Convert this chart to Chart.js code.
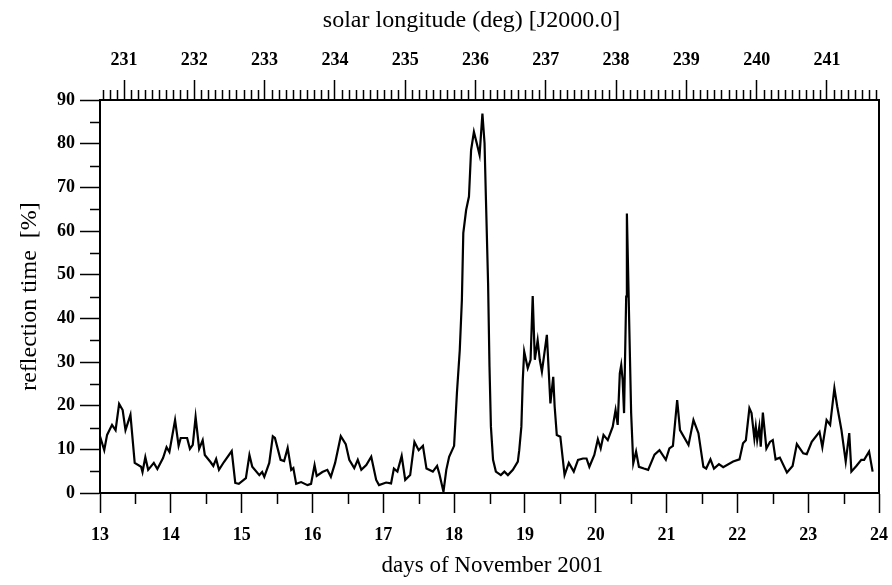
<!DOCTYPE html>
<html>
<head>
<meta charset="utf-8">
<script src="https://cdn.jsdelivr.net/npm/chart.js@4.4.1/dist/chart.umd.min.js"></script>
<style>
  body { margin: 0; background: #fff; }
  #wrap { width: 892px; height: 585px; }
</style>
</head>
<body>
<div id="wrap"><canvas id="chart"></canvas></div>
<script>
// days of November 2001 (UT) and reflection time [%]
const days = [
  13.00, 13.06, 13.10, 13.17, 13.22, 13.27, 13.32, 13.36, 13.43, 13.49,
  13.58, 13.60, 13.64, 13.68, 13.76, 13.81, 13.89, 13.94, 13.98, 14.06,
  14.11, 14.14, 14.23, 14.27, 14.31, 14.35, 14.40, 14.45, 14.48, 14.56,
  14.60, 14.64, 14.68, 14.75, 14.86, 14.91, 14.96, 15.06, 15.11, 15.15,
  15.25, 15.29, 15.32, 15.39, 15.44, 15.47, 15.55, 15.60, 15.65, 15.70,
  15.73, 15.77, 15.84, 15.93, 15.98, 16.03, 16.06, 16.14, 16.21, 16.26,
  16.32, 16.40, 16.47, 16.52, 16.59, 16.64, 16.69, 16.76, 16.83, 16.90,
  16.94, 17.04, 17.11, 17.15, 17.20, 17.26, 17.31, 17.38, 17.44, 17.50,
  17.56, 17.61, 17.70, 17.76, 17.79, 17.85, 17.89, 17.93, 18.00, 18.04,
  18.08, 18.11, 18.13, 18.17, 18.21, 18.24, 18.28, 18.32, 18.36, 18.40,
  18.43, 18.45, 18.48, 18.50, 18.52, 18.55, 18.59, 18.66, 18.71, 18.76,
  18.83, 18.90, 18.92, 18.95, 18.97, 18.99, 19.04, 19.08, 19.11, 19.14,
  19.18, 19.21, 19.24, 19.31, 19.36, 19.40, 19.42, 19.45, 19.50, 19.56,
  19.62, 19.69, 19.75, 19.82, 19.87, 19.91, 19.98, 20.03, 20.07, 20.11,
  20.17, 20.24, 20.28, 20.31, 20.34, 20.36, 20.38, 20.40, 20.43, 20.44,
  20.47, 20.50, 20.53, 20.57, 20.61, 20.68, 20.74, 20.83, 20.90, 20.99,
  21.04, 21.09, 21.15, 21.19, 21.31, 21.38, 21.45, 21.52, 21.56, 21.62,
  21.67, 21.74, 21.80, 21.94, 22.03, 22.08, 22.12, 22.17, 22.20, 22.24,
  22.26, 22.28, 22.31, 22.33, 22.36, 22.41, 22.46, 22.50, 22.54, 22.60,
  22.70, 22.78, 22.84, 22.93, 22.98, 23.05, 23.16, 23.20, 23.26, 23.31,
  23.37, 23.41, 23.47, 23.53, 23.58, 23.61, 23.68, 23.75, 23.79, 23.86,
  23.91
];
const reflection = [
  13.0, 9.8, 13.3, 15.6, 14.4, 20.4, 19.0, 14.4, 17.9, 6.9,
  6.0, 4.8, 8.2, 5.3, 6.9, 5.5, 8.0, 10.5, 9.4, 16.7,
  10.8, 12.6, 12.6, 10.1, 11.0, 17.4, 10.1, 12.1, 8.7, 7.1,
  6.2, 7.8, 5.3, 7.1, 9.6, 2.3, 2.1, 3.4, 8.7, 6.0,
  4.1, 4.8, 3.7, 6.9, 13.0, 12.6, 7.6, 7.3, 10.3, 5.3,
  5.7, 2.1, 2.5, 1.8, 2.1, 6.4, 3.9, 4.8, 5.3, 3.7,
  6.9, 13.0, 11.2, 7.6, 5.7, 7.6, 5.3, 6.4, 8.3, 3.0,
  1.8, 2.4, 2.2, 5.6, 4.9, 8.5, 3.0, 4.1, 11.7, 9.8,
  10.8, 5.6, 4.9, 6.2, 4.5, 0.3, 5.3, 8.3, 10.8, 22.9,
  32.7, 44.2, 59.5, 64.8, 67.9, 78.5, 82.7, 80.1, 77.4, 86.9,
  80.1, 67.1, 48.1, 28.9, 15.2, 7.6, 4.9, 4.1, 4.9, 4.1,
  5.3, 7.2, 9.8, 15.2, 25.9, 32.4, 28.6, 30.5, 45.1, 30.5,
  35.0, 30.5, 27.8, 36.2, 20.5, 26.6, 19.8, 13.3, 12.9, 4.1,
  6.9, 4.9, 7.6, 7.9, 7.9, 6.0, 8.7, 12.3, 10.2, 13.3,
  12.1, 15.2, 19.0, 15.6, 27.4, 29.3, 25.9, 18.3, 45.0, 64.0,
  41.1, 18.3, 6.8, 9.5, 6.0, 5.6, 5.3, 8.8, 9.8, 7.6,
  10.2, 10.8, 21.3, 14.4, 11.0, 16.7, 13.7, 6.0, 5.6, 7.7,
  5.6, 6.6, 5.9, 7.2, 7.7, 11.4, 12.1, 19.4, 18.3, 12.5,
  15.2, 12.1, 15.2, 10.6, 18.4, 10.2, 11.7, 12.1, 7.7, 8.1,
  4.7, 6.2, 11.2, 9.1, 8.9, 11.7, 14.0, 10.5, 16.7, 15.6,
  24.0, 19.8, 14.4, 7.2, 13.7, 4.9, 6.2, 7.6, 7.6, 9.5,
  4.9
];

// axis ranges
const dayMin = 13, dayMax = 24;
const lonMin = 230.658, lonMax = 241.741; // solar longitude at day 13 and day 24
const yMin = 0, yMax = 90;

const tickFont = { family: "Liberation Serif", size: 18, weight: "bold" };
const titleFont = { family: "Liberation Serif", size: 24 };

function isWhole(v, step) {
  const r = v / step;
  return Math.abs(r - Math.round(r)) < 1e-6;
}

// short minor ticks are drawn here, the long ones by Chart.js
const minorTicks = {
  id: "minorTicks",
  afterDraw(chart) {
    const ctx = chart.ctx;
    const area = chart.chartArea;
    ctx.save();
    ctx.strokeStyle = "#000";
    ctx.lineWidth = 1.5;
    ctx.beginPath();
    chart.scales.x.ticks.forEach((t) => {
      if (isWhole(t.value, 1)) return;
      const px = Math.round(chart.scales.x.getPixelForValue(t.value)) + 0.5;
      ctx.moveTo(px, area.bottom);
      ctx.lineTo(px, area.bottom + 11);
    });
    chart.scales.x2.ticks.forEach((t) => {
      if (isWhole(t.value, 1)) return;
      const px = Math.round(chart.scales.x2.getPixelForValue(t.value)) + 0.5;
      ctx.moveTo(px, area.top);
      ctx.lineTo(px, area.top - 10);
    });
    chart.scales.y.ticks.forEach((t) => {
      if (isWhole(t.value, 10)) return;
      const py = Math.round(chart.scales.y.getPixelForValue(t.value)) + 0.5;
      ctx.moveTo(area.left, py);
      ctx.lineTo(area.left - 10, py);
    });
    ctx.stroke();
    // right side of the frame
    ctx.lineWidth = 2;
    ctx.beginPath();
    ctx.moveTo(area.right, area.top);
    ctx.lineTo(area.right, area.bottom);
    ctx.stroke();
    ctx.restore();
  }
};

const points = days.map((d, i) => ({ x: d, y: reflection[i] }));

new Chart(document.getElementById("chart"), {
  type: "line",
  data: {
    datasets: [{
      data: points,
      borderColor: "#000",
      borderWidth: 2.2,
      pointRadius: 0,
      tension: 0,
      fill: false,
      xAxisID: "x",
      yAxisID: "y"
    }]
  },
  options: {
    responsive: true,
    maintainAspectRatio: false,
    animation: false,
    layout: { padding: { left: 0, right: 13, top: 0, bottom: 0 } },
    plugins: { legend: { display: false }, tooltip: { enabled: false } },
    scales: {
      x: {
        type: "linear",
        position: "bottom",
        min: dayMin,
        max: dayMax,
        afterFit: (s) => { s.height = 92; s.paddingLeft = 0; s.paddingRight = 0; },
        ticks: {
          stepSize: 0.5,
          color: "#000",
          font: tickFont,
          padding: 12,
          maxRotation: 0,
          autoSkip: false,
          callback: (v) => (isWhole(v, 1) ? String(v) : "")
        },
        grid: {
          drawOnChartArea: false,
          tickLength: 20,
          tickWidth: 1.5,
          tickColor: (c) => (c.tick && isWhole(c.tick.value, 1) ? "#000" : "rgba(0,0,0,0)")
        },
        border: { color: "#000", width: 2 },
        title: {
          display: true,
          text: " days of November 2001",
          color: "#000",
          font: { family: "Liberation Serif", size: 23 },
          padding: { top: 0, bottom: 5 }
        }
      },
      x2: {
        type: "linear",
        position: "top",
        min: lonMin,
        max: lonMax,
        afterFit: (s) => { s.height = 100; s.paddingLeft = 0; s.paddingRight = 0; },
        afterBuildTicks: (s) => {
          const t = [];
          for (let k = Math.ceil(lonMin * 10); k <= Math.floor(lonMax * 10); k++) {
            t.push({ value: k / 10 });
          }
          s.ticks = t;
        },
        ticks: {
          color: "#000",
          font: tickFont,
          padding: 9,
          maxRotation: 0,
          autoSkip: false,
          callback: (v) => (isWhole(v, 1) ? String(Math.round(v)) : "")
        },
        grid: {
          drawOnChartArea: false,
          tickLength: 20,
          tickWidth: 1.5,
          tickColor: (c) => (c.tick && isWhole(c.tick.value, 1) ? "#000" : "rgba(0,0,0,0)")
        },
        border: { color: "#000", width: 2 },
        title: {
          display: true,
          text: "solar longitude (deg) [J2000.0]      ",
          color: "#000",
          font: titleFont,
          padding: { top: 6, bottom: 0 }
        }
      },
      y: {
        type: "linear",
        position: "left",
        min: yMin,
        max: yMax,
        afterFit: (s) => { s.width = 100; },
        ticks: {
          stepSize: 5,
          color: "#000",
          font: tickFont,
          padding: 5,
          autoSkip: false,
          callback: (v) => (isWhole(v, 10) ? String(v) : "")
        },
        grid: {
          drawOnChartArea: false,
          tickLength: 20,
          tickWidth: 1.5,
          tickColor: (c) => (c.tick && isWhole(c.tick.value, 10) ? "#000" : "rgba(0,0,0,0)")
        },
        border: { color: "#000", width: 2 },
        title: {
          display: true,
          text: "reflection time  [%]",
          color: "#000",
          font: titleFont,
          padding: { top: 15, bottom: 0 }
        }
      }
    }
  },
  plugins: [minorTicks]
});
</script>
</body>
</html>
